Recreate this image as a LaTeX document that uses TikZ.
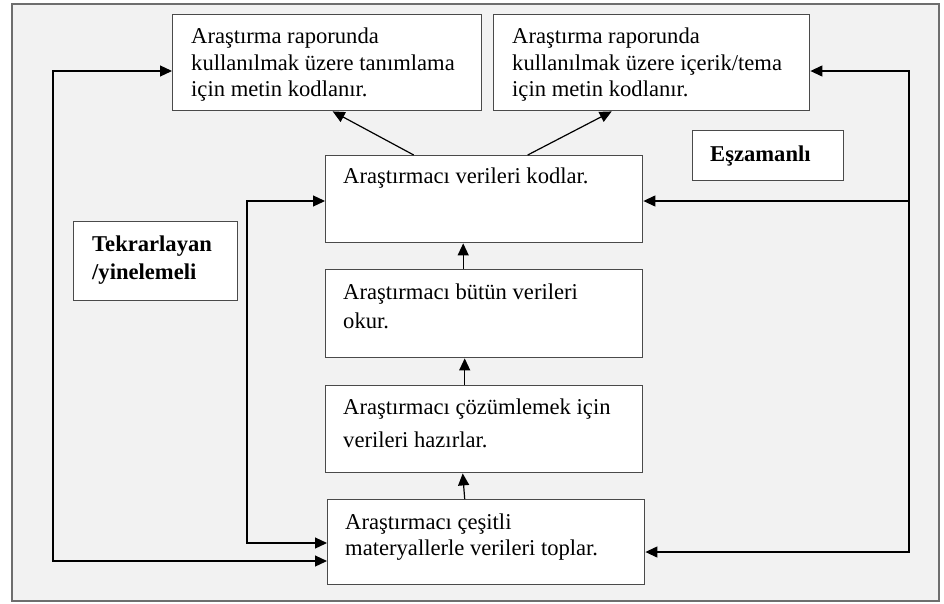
\documentclass[tikz,border=0pt]{standalone}
\usepackage{fontspec}
\setmainfont{Liberation Serif}
\usetikzlibrary{arrows.meta}
\definecolor{zemin}{HTML}{F2F2F2}
\definecolor{cerceve}{HTML}{6E6E6E}
\definecolor{kenar}{HTML}{4A4A4A}
\tikzset{
  kutu/.style={draw=kenar, line width=1.4pt, fill=white, inner sep=0pt, anchor=north west},
  yazi/.style={inner sep=0pt, anchor=north west, align=left, font=\fontsize{22.6}{26.5}\selectfont},
  ok/.style={line width=1.2pt, -{Triangle[length=12pt,width=11pt]}},
  okiki/.style={line width=1.2pt, {Triangle[length=12pt,width=11pt]}-{Triangle[length=12pt,width=11pt]}}
}
\begin{document}
\begin{tikzpicture}[x=1pt,y=-1pt]
\useasboundingbox (0,0) rectangle (944,603);

% Drawing outer frame
\draw[cerceve, fill=zemin, line width=1.5pt] (12,4) rectangle (939,601);

% Drawing box A (tanimlama)
\node[kutu, minimum width=309pt, minimum height=96pt] (A) at (172,14) {};
\node[yazi] (Ay) at (191,28) {Araştırma raporunda\\kullanılmak üzere tanımlama\\için metin kodlanır.};

% Drawing box B (icerik/tema)
\node[kutu, minimum width=316pt, minimum height=96pt] (B) at (493,14) {};
\node[yazi] (By) at (512,28) {Araştırma raporunda\\kullanılmak üzere içerik/tema\\için metin kodlanır.};

% Drawing box C (kodlar)
\node[kutu, minimum width=317pt, minimum height=87pt] (C) at (325,155) {};
\node[yazi] (Cy) at (343,168) {Araştırmacı verileri kodlar.};

% Drawing box D (okur)
\node[kutu, minimum width=317pt, minimum height=88pt] (D) at (325,269) {};
\node[yazi] (Dy) at (343,284) {Araştırmacı bütün verileri\\[2.5pt]okur.};

% Drawing box E (hazirlar)
\node[kutu, minimum width=317pt, minimum height=87pt] (E) at (325,385) {};
\node[yazi] (Ey) at (343,399) {Araştırmacı çözümlemek için\\[6.5pt]verileri hazırlar.};

% Drawing box F (toplar)
\node[kutu, minimum width=317pt, minimum height=85pt] (F) at (327,499) {};
\node[yazi] (Fy) at (345,514) {Araştırmacı çeşitli\\[-1pt]materyallerle verileri toplar.};

% Marking label Tekrarlayan
\node[kutu, minimum width=164pt, minimum height=79pt] (T) at (73,221) {};
\node[yazi, font=\fontsize{22.6}{26.5}\selectfont\bfseries] (Ty) at (92,236) {Tekrarlayan\\[1.5pt]/yinelemeli};

% Marking label Eszamanli
\node[kutu, minimum width=151pt, minimum height=50pt] (S) at (692,130) {};
\node[yazi, font=\fontsize{22.6}{26.5}\selectfont\bfseries] (Sy) at (710,146) {Eşzamanlı};

% Drawing arrows up the chain
\draw[ok] ([xshift=-21pt]D.north) -- ([xshift=-21pt]C.south);
\draw[ok] ([xshift=-19.5pt]E.north) -- ([xshift=-19.5pt]D.south);
\draw[ok] ([xshift=-21.5pt]F.north) -- ([xshift=-21.5pt]E.south);

% Drawing arrows C to A and C to B
\draw[ok] ([xshift=-70.5pt]C.north) -- ([xshift=5.5pt]A.south);
\draw[ok] ([xshift=43.5pt]C.north) -- ([xshift=-40pt]B.south);

% Drawing left outer loop
\coordinate (solust) at (53,71);
\coordinate (solalt) at (53,561);
\draw[okiki] (solust -| A.west) -- (solust) -- (solalt) -- (solalt -| F.west);

% Drawing left inner loop
\coordinate (icust) at (247,201);
\coordinate (icalt) at (247,543);
\draw[okiki] (icust -| C.west) -- (icust) -- (icalt) -- (icalt -| F.west);

% Drawing right loop
\coordinate (sagust) at (909,71);
\coordinate (sagorta) at (909,201);
\coordinate (sagalt) at (909,552);
\draw[okiki] (sagust -| B.east) -- (sagust) -- (sagalt) -- (sagalt -| F.east);
\draw[ok] (sagorta) -- (sagorta -| C.east);
\end{tikzpicture}
\end{document}
